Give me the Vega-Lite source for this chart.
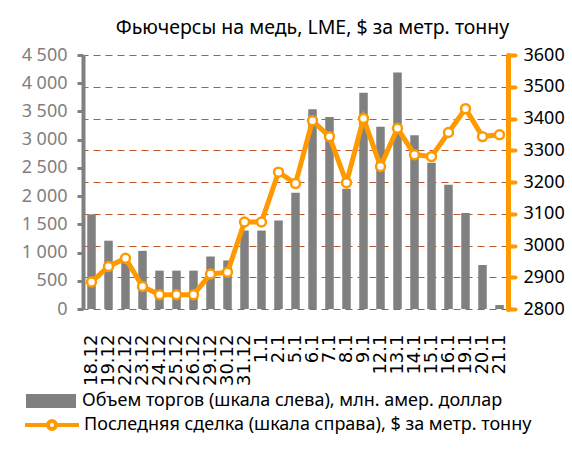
{
  "$schema": "https://vega.github.io/schema/vega-lite/v6.json",
  "width": 425,
  "height": 254,
  "autosize": {"type": "none"},
  "padding": {"left": 83, "top": 55, "right": 64, "bottom": 152},
  "background": "white",
  "title": {
    "text": "Фьючерсы на медь, LME, $ за метр. тонну",
    "font": "Noto Sans",
    "fontSize": 19.5,
    "fontWeight": "normal",
    "color": "#000000",
    "frame": "group",
    "anchor": "middle",
    "offset": 8,
    "dx": 17
  },
  "config": {
    "view": {"stroke": null},
    "font": "Noto Sans"
  },
  "data": {
    "values": [
      {"date": "18.12", "volume": 1680, "price": 2885},
      {"date": "19.12", "volume": 1210, "price": 2934},
      {"date": "22.12", "volume": 820, "price": 2960},
      {"date": "23.12", "volume": 1030, "price": 2871},
      {"date": "24.12", "volume": 680, "price": 2845},
      {"date": "25.12", "volume": 680, "price": 2845},
      {"date": "26.12", "volume": 680, "price": 2845},
      {"date": "29.12", "volume": 930, "price": 2910},
      {"date": "30.12", "volume": 860, "price": 2916},
      {"date": "31.12", "volume": 1390, "price": 3074},
      {"date": "1.1", "volume": 1390, "price": 3074},
      {"date": "2.1", "volume": 1570, "price": 3231},
      {"date": "5.1", "volume": 2060, "price": 3195},
      {"date": "6.1", "volume": 3540, "price": 3393},
      {"date": "7.1", "volume": 3400, "price": 3343},
      {"date": "8.1", "volume": 2130, "price": 3198},
      {"date": "9.1", "volume": 3830, "price": 3400},
      {"date": "12.1", "volume": 3230, "price": 3249},
      {"date": "13.1", "volume": 4190, "price": 3369},
      {"date": "14.1", "volume": 3080, "price": 3286},
      {"date": "15.1", "volume": 2590, "price": 3280},
      {"date": "16.1", "volume": 2200, "price": 3356},
      {"date": "19.1", "volume": 1700, "price": 3431},
      {"date": "20.1", "volume": 780, "price": 3343},
      {"date": "21.1", "volume": 70, "price": 3349}
    ]
  },
  "encoding": {
    "x": {
      "field": "date",
      "type": "nominal",
      "sort": null,
      "scale": {"paddingInner": 0.5, "paddingOuter": 0.25},
      "axis": {
        "title": null,
        "domain": false,
        "ticks": false,
        "grid": false,
        "labelAngle": 270,
        "labelFontSize": 18,
        "labelColor": "#000000",
        "labelPadding": 25,
        "labelFont": "DejaVu Sans"
      }
    }
  },
  "layer": [
    {
      "mark": {"type": "bar", "color": "#808080"},
      "encoding": {
        "y": {
          "field": "volume",
          "type": "quantitative",
          "scale": {"domain": [0, 4500], "nice": false},
          "axis": {
            "title": null,
            "values": [0, 500, 1000, 1500, 2000, 2500, 3000, 3500, 4000, 4500],
            "labelExpr": "replace(format(datum.value, ',d'), ',', ' ')",
            "grid": false,
            "domainColor": "#808080",
            "domainWidth": 4,
            "tickColor": "#808080",
            "tickWidth": 3,
            "tickSize": 6,
            "labelColor": "#7f7f7f",
            "labelFontSize": 18,
            "labelPadding": 10,
            "labelFont": "Noto Sans"
          }
        },
        "color": {
          "datum": "Объем торгов (шкала слева), млн. амер. доллар",
          "scale": {"range": ["#808080"]},
          "legend": {
            "title": null,
            "orient": "none",
            "legendX": -57,
            "legendY": 321,
            "padding": 0,
            "symbolType": "M-1,-0.28H1V0.28H-1Z",
            "symbolSize": 2500,
            "symbolStrokeWidth": 0,
            "labelFontSize": 18,
            "labelColor": "#000000",
            "labelFont": "Noto Sans",
            "labelOffset": 6,
            "labelLimit": 700
          }
        }
      }
    },
    {
      "mark": {
        "type": "line",
        "strokeWidth": 5,
        "point": {"filled": false, "fill": "white", "size": 80, "strokeWidth": 2.5}
      },
      "encoding": {
        "y": {
          "field": "price",
          "type": "quantitative",
          "scale": {"domain": [2800, 3600], "nice": false, "zero": false},
          "axis": {
            "orient": "right",
            "title": null,
            "zindex": 0,
            "values": [2800, 2900, 3000, 3100, 3200, 3300, 3400, 3500, 3600],
            "format": "d",
            "grid": true,
            "gridColor": "#c0582a",
            "gridDash": [7, 5],
            "gridWidth": 1,
            "gridOpacity": 1,
            "domainColor": "#ff9900",
            "domainWidth": 5,
            "domainCap": "round",
            "tickColor": "#ff9900",
            "tickWidth": 4,
            "tickCap": "round",
            "tickSize": 7,
            "labelColor": "#000000",
            "labelFontSize": 18,
            "labelPadding": 8,
            "labelFont": "Noto Sans"
          }
        },
        "stroke": {
          "datum": "Последняя сделка (шкала справа), $ за метр. тонну",
          "scale": {"range": ["#ff9900"]},
          "legend": {
            "title": null,
            "orient": "none",
            "legendX": -60,
            "legendY": 341,
            "padding": 0,
            "symbolType": "M-1,0H-0.15A0.15,0.15 0 1,1 0.15,0A0.15,0.15 0 1,1 -0.15,0M0.15,0H1",
            "symbolSize": 2916,
            "symbolStrokeWidth": 4,
            "symbolFillColor": "white",
            "labelFontSize": 18,
            "labelColor": "#000000",
            "labelFont": "Noto Sans",
            "labelOffset": 3,
            "labelLimit": 700,
            "encode": {"symbols": {"update": {"fill": {"value": "white"}, "stroke": {"value": "#ff9900"}, "strokeWidth": {"value": 4}}}}
          }
        }
      }
    }
  ],
  "resolve": {"scale": {"y": "independent"}}
}
